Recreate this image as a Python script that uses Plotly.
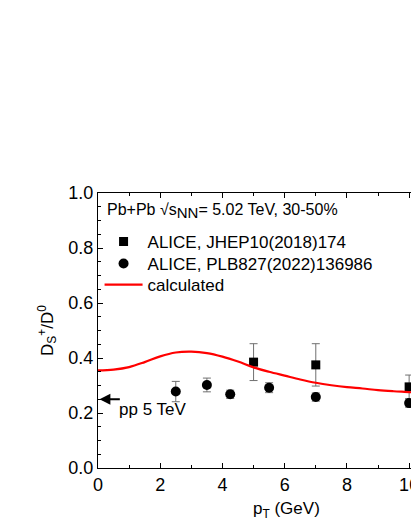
import plotly.graph_objects as go

# Data
jhep_x = [5, 7, 10]
jhep_y = [0.385, 0.375, 0.295]
jhep_err_plus = [0.067, 0.077, 0.043]
jhep_err_minus = [0.067, 0.077, 0.043]

plb_x = [2.5, 3.5, 4.25, 5.5, 7, 10]
plb_y = [0.278, 0.302, 0.268, 0.292, 0.258, 0.236]
plb_err = [0.037, 0.025, 0.015, 0.018, 0.015, 0.015]

calc_x = [0, 0.5, 1, 1.5, 2, 2.5, 3, 3.5, 4, 4.5, 5, 5.5, 6, 6.5, 7, 7.5, 8, 8.5, 9, 9.5, 10, 10.1]
calc_y = [0.355, 0.358, 0.367, 0.385, 0.406, 0.42, 0.423, 0.418, 0.405, 0.387, 0.366, 0.35, 0.336, 0.322, 0.31, 0.301, 0.294, 0.289, 0.283, 0.279, 0.276, 0.275]

pp_ratio = 0.25

FONT = "Liberation Sans, Arial, sans-serif"

fig = go.Figure()

fig.add_trace(go.Scatter(
    x=jhep_x, y=jhep_y, mode="markers", name="ALICE, JHEP10(2018)174", legend="legend",
    marker=dict(symbol="square", size=9, color="black"),
    error_y=dict(type="data", array=jhep_err_plus, arrayminus=jhep_err_minus,
                 color="#707070", thickness=1, width=4),
))
fig.add_trace(go.Scatter(
    x=plb_x, y=plb_y, mode="markers", name="ALICE, PLB827(2022)136986", legend="legend2",
    marker=dict(symbol="circle", size=10, color="black"),
    error_y=dict(type="data", array=plb_err, color="#707070", thickness=1, width=4),
))
fig.add_trace(go.Scatter(
    x=calc_x, y=calc_y, mode="lines", name="calculated", legend="legend3",
    line=dict(color="#ff0000", width=2.2, shape="spline"),
))

# pp arrow
fig.add_annotation(x=0.05, y=pp_ratio, ax=0.75, ay=pp_ratio, xref="x", yref="y",
                   axref="x", ayref="y", showarrow=True, arrowhead=2, arrowsize=1.2,
                   arrowwidth=1.8, arrowcolor="black", text="")
fig.add_annotation(x=0.6, y=0.213, xref="x", yref="y", text="pp 5 TeV", showarrow=False,
                   xanchor="left", yanchor="middle", font=dict(size=17, color="black", family=FONT))

# header
fig.add_annotation(x=0.22, y=0.935, xref="x", yref="y",
                   text="Pb+Pb \u221as<sub><span style='font-size:15px'>NN</span></sub>= 5.02 TeV, 30-50%",
                   showarrow=False, xanchor="left", yanchor="middle",
                   font=dict(size=16, color="black", family=FONT))

# x-axis title (original frame extends beyond the visible crop)
fig.add_annotation(x=6.05, y=-0.153, xref="x", yref="paper", text="p<sub>T</sub> (GeV)",
                   showarrow=False, xanchor="center", yanchor="middle",
                   font=dict(size=17, color="black", family=FONT))

axis_common = dict(
    showline=True, linecolor="black", linewidth=1.3, ticks="inside", ticklen=5,
    tickwidth=1.2, tickcolor="black", showgrid=False, zeroline=False, automargin=False,
    tickfont=dict(size=18, color="black", family=FONT),
)

leg_common = dict(x=0.005, xanchor="left", yanchor="middle",
                  font=dict(size=17, color="black", family=FONT),
                  bgcolor="rgba(0,0,0,0)", itemwidth=38)

fig.update_layout(
    width=411, height=532,
    margin=dict(l=98, r=0, t=193, b=64),
    plot_bgcolor="white", paper_bgcolor="white",
    font=dict(family=FONT, color="black"),
    showlegend=True,
    legend=dict(y=0.822, **leg_common),
    legend2=dict(y=0.742, **leg_common),
    legend3=dict(y=0.665, **leg_common),
    xaxis=dict(range=[0, 10.06], dtick=2, tick0=0, mirror="ticks", ticklabeloverflow="allow",
               minor=dict(dtick=1, ticks="inside", ticklen=3, tickcolor="black"),
               **axis_common),
    yaxis=dict(range=[0, 1.0], dtick=0.2, tick0=0, tickformat=".1f",
               minor=dict(dtick=0.05, ticks="inside", ticklen=3, tickcolor="black"),
               title=dict(text="D<sub>S</sub><sup>+</sup>/D<sup>0</sup>", font=dict(size=17), standoff=10),
               **axis_common),
)

fig.write_html(
    "out.html",
    config={"displayModeBar": False},
    post_script="document.body.style.margin='0';document.body.style.overflow='hidden';",
)
